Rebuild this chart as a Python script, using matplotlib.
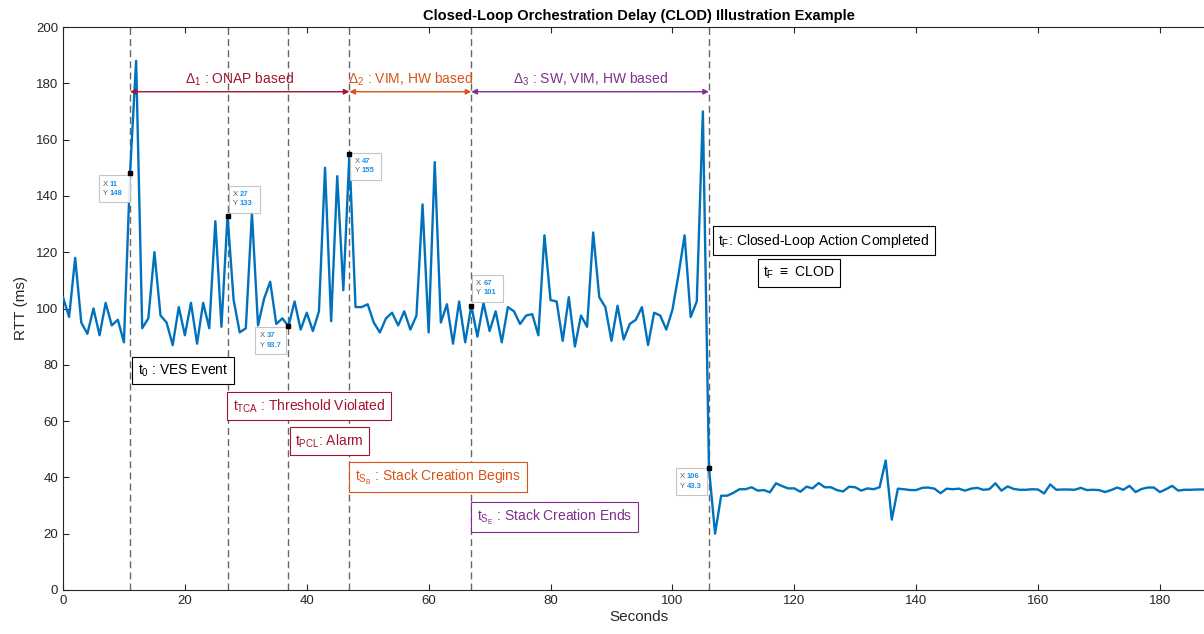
import numpy as np
import matplotlib
matplotlib.use("Agg")
from matplotlib import pyplot as plt
from matplotlib.patches import Rectangle
import matplotlib.transforms as mtransforms

plt.rcParams['font.family'] = ['Liberation Sans', 'DejaVu Sans']
plt.rcParams['mathtext.fontset'] = 'custom'
plt.rcParams['mathtext.rm'] = 'Liberation Sans'
plt.rcParams['mathtext.default'] = 'regular'

# RTT samples, one per second
rtt = [104, 97, 118, 95, 91, 100, 90.5, 102, 94, 96,
       88, 148, 188, 93, 96.5, 120, 97.5, 95, 87, 100.5,
       90.5, 102, 87.5, 102, 93, 131, 93.5, 133, 103, 91.5,
       93, 134, 94, 103.5, 109.5, 94.5, 96.5, 93.7, 102.5, 92.5,
       98.5, 92, 99, 150, 95.5, 147, 106.5, 155, 100.5, 100.5,
       101.5, 95, 91.5, 96.5, 98.5, 94, 99, 92.5, 97.5, 137,
       91.5, 152, 95, 101.5, 87.5, 102.5, 88, 101, 90, 102,
       92, 99, 88, 100.5, 99, 94.5, 97.5, 98, 90.5, 126,
       103, 102.5, 88.5, 104, 86.5, 97.5, 93.5, 127, 104, 100.5,
       88.5, 101, 89, 94.5, 96, 100.5, 87, 98.5, 97.5, 92.5,
       99.5, 112, 126, 97, 102.5, 170, 43.3, 20, 33.5, 33.5,
       34.5, 35.8, 35.8, 36.5, 35.3, 35.5, 34.7, 37.9, 36.9, 36.1,
       36.1, 34.9, 36.7, 36.1, 38, 36.5, 36.5, 35.5, 35, 36.7,
       36.5, 35.3, 36.1, 35.8, 36.5, 46, 25, 36, 35.8, 35.5,
       35.5, 36.3, 36.4, 36, 34.4, 36, 35.8, 36, 35.3, 36,
       36.3, 35.6, 35.8, 37.9, 35.3, 36.8, 35.9, 35.6, 35.6, 35.8,
       35.7, 34.3, 37.5, 35.6, 35.7, 35.7, 35.6, 36.3, 35.5, 35.6,
       35.5, 34.8, 35.5, 36.4, 35.6, 37, 34.8, 35.9, 36.4, 36.4,
       34.8, 35.8, 37, 35.3, 35.6, 35.6, 35.7, 35.7, 35.8, 35.8]
seconds = np.arange(len(rtt))

event_t = [11, 27, 37, 47, 67, 106]

# data tips: x, y, box offset in pixels (left, bottom)
tips_x = [11, 27, 37, 47, 67, 106]
tips_y = [148, 133, 93.7, 155, 101, 43.3]
tips_lbl = ['148', '133', '93.7', '155', '101', '43.3']
tips_box = [(-31, -29), (1, 3), (-33, -28), (1, -26), (1, 4), (-33, -27)]

c_red = '#A2142F'
c_org = '#D95319'
c_pur = '#7E2F8E'
c_line = '#0072BD'

fig = plt.figure(figsize=(12.04, 6.34), dpi=100)
ax = fig.add_axes([63 / 1204, 44 / 634, (1215 - 63) / 1204, 563 / 634])

ax.plot(seconds, rtt, color=c_line, lw=1.7, zorder=3)
for t in event_t:
    ax.axvline(t, color='0.4', ls='--', lw=1, dashes=(5, 3), zorder=2)

ax.set_xlim(0, (1215 - 63) / 6.094)
ax.set_ylim(0, 200)
ax.set_xticks(np.arange(0, 181, 20))
ax.set_yticks(np.arange(0, 201, 20))
ax.tick_params(direction='in', length=4, labelsize=9.5, colors='0.15',
               top=True, right=True)
for s in ax.spines.values():
    s.set_color('0.15')
    s.set_linewidth(0.8)
ax.set_xlabel('Seconds', fontsize=11, color='0.15', labelpad=2)
ax.set_ylabel('RTT (ms)', fontsize=11, color='0.15', labelpad=6)
ax.set_title('Closed-Loop Orchestration Delay (CLOD) Illustration Example',
             fontsize=10.5, fontweight='bold', pad=5)

# delta arrows
arrows = [(11, 47, c_red, r'$\Delta_1$ : ONAP based'),
          (47, 67, c_org, r'$\Delta_2$ : VIM, HW based'),
          (67, 106, c_pur, r'$\Delta_3$ : SW, VIM, HW based')]
for a, b, c, lbl in arrows:
    ax.annotate('', xy=(b, 177), xytext=(a, 177),
                arrowprops=dict(arrowstyle='<|-|>', color=c, lw=1,
                                shrinkA=0, shrinkB=0, mutation_scale=8))
    ax.text((a + b) / 2, 178.2, lbl, color=c, fontsize=10,
            ha='center', va='bottom')

# event boxes
boxes = [(12.3, 78, r'$t_0$ : VES Event', 'black'),
         (27.9, 65.4, r'$t_{TCA}$ : Threshold Violated', c_red),
         (38.1, 52.9, r'$t_{PCL}$: Alarm', c_red),
         (47.9, 40.1, r'$t_{S_B}$ : Stack Creation Begins', c_org),
         (67.9, 25.9, r'$t_{S_E}$ : Stack Creation Ends', c_pur),
         (107.5, 124, r'$t_F$: Closed-Loop Action Completed', 'black'),
         (114.9, 112.6, r'$t_F$ $\equiv$ CLOD', 'black')]
for x, y, lbl, c in boxes:
    ax.text(x, y, lbl, color=c, fontsize=10, ha='left', va='center',
            zorder=5,
            bbox=dict(boxstyle='square,pad=0.4', fc='white', ec=c, lw=0.8))

# data tips
for x, y, lbl, (dx, dy) in zip(tips_x, tips_y, tips_lbl, tips_box):
    tr = mtransforms.IdentityTransform() + mtransforms.ScaledTranslation(x, y, ax.transData)
    ax.add_patch(Rectangle((dx, dy), 31, 27, transform=tr, fc='white',
                           ec='0.75', lw=0.8, alpha=0.9, zorder=6))
    ax.plot(x, y, 's', color='black', ms=2.5, zorder=7)
    ax.annotate('X\nY', xy=(x, y), xytext=(dx + 4, dy + 13.5),
                textcoords='offset pixels', fontsize=5.5, color='0.35',
                ha='left', va='center', linespacing=1.5, zorder=7)
    ax.annotate(str(x) + '\n' + lbl, xy=(x, y), xytext=(dx + 11, dy + 13.5),
                textcoords='offset pixels', fontsize=5.5, color='#1E90E8',
                fontweight='bold', ha='left', va='center', linespacing=1.5,
                zorder=7)

fig.savefig('out.png', dpi=100)
